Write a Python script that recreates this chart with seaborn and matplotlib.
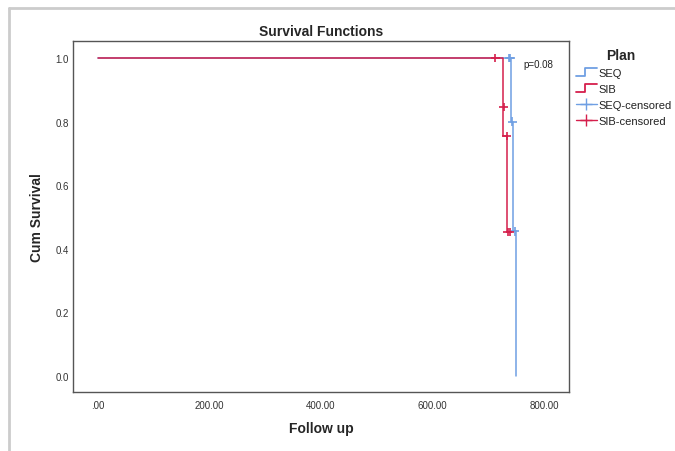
import matplotlib
matplotlib.use("Agg")
import matplotlib.pyplot as plt
import seaborn as sns
import pandas as pd
from matplotlib.lines import Line2D
from matplotlib.legend_handler import HandlerBase

# ---- data ----
seq_time = [0, 741, 745, 750]
seq_surv = [1.0, 0.80, 0.455, 0.0]
seq_cens_time = [738, 740, 743, 748]
seq_cens_surv = [1.0, 1.0, 0.80, 0.455]

sib_time = [0, 726, 733, 739]
sib_surv = [1.0, 0.755, 0.453, 0.453]
sib_cens_time = [713, 728, 733, 735, 739]
sib_cens_surv = [1.0, 0.846, 0.755, 0.453, 0.453]

x_ticks = [0, 200, 400, 600, 800]
x_tick_labels = [".00", "200.00", "400.00", "600.00", "800.00"]
y_ticks = [0.0, 0.2, 0.4, 0.6, 0.8, 1.0]
y_tick_labels = ["0.0", "0.2", "0.4", "0.6", "0.8", "1.0"]
p_text = "p=0.08"

BLUE = "#6F9FE3"
RED = "#D51F4C"

sns.set_style("white")
plt.rcParams["font.family"] = ["Liberation Sans", "DejaVu Sans"]

fig = plt.figure(figsize=(6.75, 4.52), dpi=100)
ax = fig.add_axes([73 / 675, 1 - 393 / 452, (569 - 73) / 675, (393 - 42) / 452])

lines = pd.DataFrame({
    "time": seq_time + sib_time,
    "surv": seq_surv + sib_surv,
    "Plan": ["SEQ"] * len(seq_time) + ["SIB"] * len(sib_time),
})
cens = pd.DataFrame({
    "time": seq_cens_time + sib_cens_time,
    "surv": seq_cens_surv + sib_cens_surv,
    "Plan": ["SEQ"] * len(seq_cens_time) + ["SIB"] * len(sib_cens_time),
})
pal = {"SEQ": BLUE, "SIB": RED}

sns.lineplot(data=lines, x="time", y="surv", hue="Plan", palette=pal,
             estimator=None, sort=False, drawstyle="steps-post",
             linewidth=1.1, legend=False, ax=ax)
sns.scatterplot(data=cens, x="time", y="surv", hue="Plan", palette=pal,
                marker="+", s=40, linewidth=1.2, legend=False, ax=ax, zorder=5)

ax.set_xlim(-44.8, 845)
ax.set_ylim(-0.0504, 1.0535)
ax.set_xticks(x_ticks)
ax.set_xticklabels(x_tick_labels)
ax.set_yticks(y_ticks)
ax.set_yticklabels(y_tick_labels)
ax.tick_params(axis="both", length=0, labelsize=7, labelcolor="#333333")
ax.tick_params(axis="x", pad=6)
ax.tick_params(axis="y", pad=3)
for sp in ax.spines.values():
    sp.set_color("#555555")
    sp.set_linewidth(1.0)
    sp.set_visible(True)

ax.set_xlabel("Follow up", fontsize=10, fontweight="bold", labelpad=8)
ax.set_ylabel("Cum Survival", fontsize=10, fontweight="bold", labelpad=8)
ax.set_title("Survival Functions", fontsize=10, fontweight="bold", pad=4)
ax.text(0.909, 0.934, p_text, transform=ax.transAxes, fontsize=7,
        color="#222222", va="center")


class StepHandler(HandlerBase):
    def create_artists(self, legend, orig_handle, xdescent, ydescent,
                       width, height, fontsize, trans):
        x0 = -xdescent
        y0 = -ydescent
        xs = [x0, x0 + width * 0.45, x0 + width * 0.45, x0 + width]
        ys = [y0, y0, y0 + height, y0 + height]
        ln = Line2D(xs, ys, color=orig_handle.get_color(), linewidth=1.3)
        ln.set_transform(trans)
        return [ln]


class StepProxy(Line2D):
    pass


h_seq = StepProxy([], [], color=BLUE)
h_sib = StepProxy([], [], color=RED)
h_seqc = Line2D([], [], color=BLUE, marker="+", markersize=9, linewidth=1.0)
h_sibc = Line2D([], [], color=RED, marker="+", markersize=9, linewidth=1.0)

leg = ax.legend([h_seq, h_sib, h_seqc, h_sibc],
                ["SEQ", "SIB", "SEQ-censored", "SIB-censored"],
                handler_map={StepProxy: StepHandler()},
                title="Plan", loc="upper left", bbox_to_anchor=(1.0, 1.0),
                frameon=False, fontsize=8, handlelength=1.9, handletextpad=0.15,
                labelspacing=0.55, borderaxespad=0.2)
leg.get_title().set_fontweight("bold")
leg.get_title().set_fontsize(10)
leg._legend_box.align = "left"
leg.get_title().set_position((30, 0))
for t in leg.get_texts():
    t.set_color("#222222")

# screenshot border lines (top and left)
fig.add_artist(Line2D([9 / 675, 9 / 675], [0, 1 - 9 / 452], color="#cccccc",
                      linewidth=2, transform=fig.transFigure))
fig.add_artist(Line2D([9 / 675, 1], [1 - 9 / 452, 1 - 9 / 452], color="#cccccc",
                      linewidth=2, transform=fig.transFigure))

fig.savefig("out.png", dpi=100)
